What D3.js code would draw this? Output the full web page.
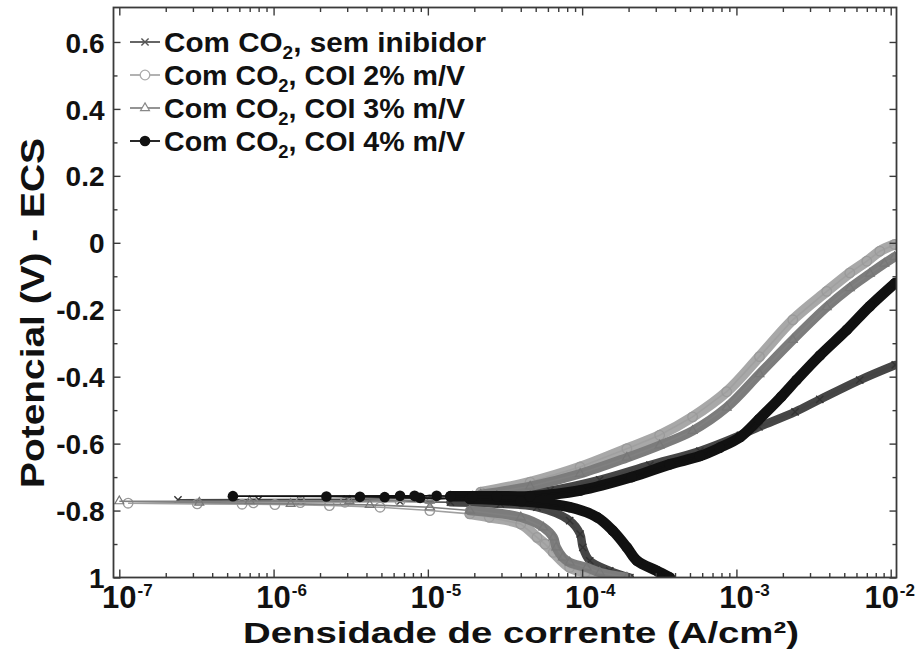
<!DOCTYPE html>
<html>
<head>
<meta charset="utf-8">
<script src="https://cdn.jsdelivr.net/npm/d3@7/dist/d3.min.js"></script>
<style>
  html, body { margin: 0; padding: 0; background: #ffffff; }
  svg { display: block; }
  text { font-family: "Liberation Sans", Arial, Helvetica, sans-serif; font-weight: bold; fill: #111; }
</style>
</head>
<body>
<svg id="chart" width="916" height="652"></svg>
<script>
// Polarisation curves (potential vs. current density), CO2-saturated medium.
// Each series is listed in scan order: cathodic end -> corrosion potential -> anodic end.

// --- Com CO2, sem inibidor ---
const semCurrent = [2.04e-4, 1.51e-4, 1.12e-4, 1.01e-4, 9.7e-5, 8.3e-5, 5.1e-5, 2.95e-5, 1.4e-5, 6.6e-6, 1.5e-6, 2.4e-7,
                    8e-7, 3e-6, 9e-6, 1.6e-5, 2.95e-5, 6.2e-5, 1.3e-4, 2.75e-4, 5.8e-4, 1.06e-3, 1.4e-3, 2.4e-3, 3.47e-3, 6.3e-3, 1.07e-2];
const semPotential = [-1.00, -0.98, -0.95, -0.91, -0.87, -0.83, -0.79, -0.78, -0.775, -0.773, -0.772, -0.768,
                      -0.767, -0.766, -0.764, -0.76, -0.755, -0.74, -0.708, -0.664, -0.622, -0.575, -0.55, -0.505, -0.468, -0.41, -0.365];

// --- Com CO2, COI 2% m/V ---
const coi2Current = [1.4e-4, 1.05e-4, 8.3e-5, 6.5e-5, 5.75e-5, 5.1e-5, 4.0e-5, 2.5e-5, 1.87e-5, 1.03e-5, 4.9e-6, 2.3e-6, 1.02e-6, 6.25e-7, 3.2e-7, 1.14e-7,
                     7.4e-7, 1.49e-6, 2.9e-6, 6.6e-6, 1.03e-5, 2.2e-5, 4.6e-5, 9.7e-5, 1.95e-4, 3.18e-4, 5.2e-4, 8.65e-4, 1.41e-3, 2.32e-3, 3.85e-3, 5.43e-3, 7.0e-3, 8.5e-3, 1.06e-2];
const coi2Potential = [-1.00, -0.985, -0.97, -0.925, -0.90, -0.88, -0.84, -0.82, -0.81, -0.80, -0.79, -0.785, -0.782, -0.781, -0.78, -0.778,
                       -0.777, -0.776, -0.775, -0.772, -0.767, -0.745, -0.715, -0.67, -0.615, -0.575, -0.52, -0.445, -0.34, -0.23, -0.145, -0.09, -0.055, -0.025, -0.005];

// --- Com CO2, COI 3% m/V ---
const coi3Current = [1.95e-4, 1.3e-4, 1.07e-4, 8.3e-5, 7.5e-5, 6.8e-5, 6.5e-5, 5.6e-5, 4.0e-5, 1.87e-5, 1.03e-5, 4.2e-6, 1.29e-6, 3.3e-7, 1.0e-7,
                     7e-7, 3.1e-6, 1.03e-5, 2.2e-5, 4.6e-5, 9.7e-5, 1.95e-4, 3.18e-4, 5.2e-4, 8.65e-4, 1.41e-3, 2.32e-3, 3.85e-3, 5.43e-3, 7.33e-3, 9.1e-3, 1.06e-2];
const coi3Potential = [-1.00, -0.985, -0.97, -0.955, -0.94, -0.91, -0.88, -0.85, -0.82, -0.80, -0.79, -0.783, -0.78, -0.776, -0.772,
                       -0.772, -0.771, -0.77, -0.752, -0.728, -0.69, -0.642, -0.605, -0.562, -0.492, -0.392, -0.29, -0.192, -0.135, -0.092, -0.062, -0.042];

// --- Com CO2, COI 4% m/V ---
const coi4Current = [3.7e-4, 3.05e-4, 2.27e-4, 1.95e-4, 1.58e-4, 1.25e-4, 8.3e-5, 4.0e-5, 1.87e-5, 8.9e-6, 5.25e-6, 3.63e-6, 2.2e-6, 5.45e-7,
                     6.6e-6, 8.2e-6, 1.14e-5, 1.4e-5, 1.95e-5, 2.8e-5, 4.6e-5, 9.7e-5, 2.1e-4, 3.7e-4, 5.8e-4, 7.8e-4, 1.06e-3, 1.4e-3, 1.95e-3, 2.45e-3, 3.47e-3, 5.2e-3, 7.3e-3, 1.07e-2];
const coi4Potential = [-1.00, -0.98, -0.95, -0.91, -0.86, -0.82, -0.79, -0.772, -0.765, -0.762, -0.76, -0.759, -0.758, -0.757,
                       -0.756, -0.756, -0.756, -0.757, -0.757, -0.757, -0.757, -0.74, -0.70, -0.662, -0.637, -0.612, -0.58, -0.527, -0.46, -0.41, -0.337, -0.26, -0.19, -0.12];

// Legend labels (split around the subscript)
const legendSuffixes = [", sem inibidor", ", COI 2% m/V", ", COI 3% m/V", ", COI 4% m/V"];

// Axis ticks and labels
const xDecades = [1e-7, 1e-6, 1e-5, 1e-4, 1e-3, 1e-2];
const xExponents = ["-7", "-6", "-5", "-4", "-3", "-2"];
const yTickValues = [0.6, 0.4, 0.2, 0, -0.2, -0.4, -0.6, -0.8, -1.0];
const yTickLabels = ["0.6", "0.4", "0.2", "0", "-0.2", "-0.4", "-0.6", "-0.8", "1"];
const yMinorValues = [0.5, 0.3, 0.1, -0.1, -0.3, -0.5, -0.7, -0.9];

const xTitle = "Densidade de corrente (A/cm²)";
const yTitle = "Potencial (V) - ECS";

// ---------------------------------------------------------------
const svg = d3.select("#chart");
const W = 916;
const L = 113.5, R = 896.5, T = 7.5, B = 577.5;

const x = d3.scaleLog().domain([Math.pow(10, -7.0376), Math.pow(10, -1.9624)]).range([L, R]);
const y = d3.scaleLinear().domain([-1, 0.703]).range([B, T]);

const zip = (cs, ps) => cs.map((c, i) => ({ i: c, e: ps[i] }));

const series = [
  { data: zip(semCurrent, semPotential),   band: "#464646", thin: "#444",    marker: "cross",    mColor: "#333",    bandW: 8.5, legendLine: "#555" },
  { data: zip(coi2Current, coi2Potential), band: "#a8a8a8", thin: "#a0a0a0", marker: "circle",   mColor: "#9a9a9a", bandW: 10.5, legendLine: "#aaa" },
  { data: zip(coi3Current, coi3Potential), band: "#7c7c7c", thin: "#808080", marker: "triangle", mColor: "#777",    bandW: 9.5, legendLine: "#888" },
  { data: zip(coi4Current, coi4Potential), band: "#111111", thin: "#111",    marker: "dot",      mColor: "#111",    bandW: 10.5, legendLine: "#111" }
];

const plot = svg.append("g");
plot.append("clipPath").attr("id", "clip")
  .append("rect").attr("x", L).attr("y", T).attr("width", R - L).attr("height", B - T);
const curves = plot.append("g").attr("clip-path", "url(#clip)");

// Thick band where the measured points are densely packed
const bandLine = d3.line()
  .defined(d => d.i >= 1.2e-5)
  .x(d => x(d.i)).y(d => y(d.e))
  .curve(d3.curveCatmullRom.alpha(0.5));
const thinLine = d3.line()
  .x(d => x(d.i)).y(d => y(d.e))
  .curve(d3.curveLinear);

function drawMarker(g, type, color, cx, cy, legend) {
  if (type === "cross") {
    const s = 3.6;
    g.append("path")
      .attr("d", `M${cx - s},${cy - s}L${cx + s},${cy + s}M${cx - s},${cy + s}L${cx + s},${cy - s}`)
      .attr("stroke", color).attr("stroke-width", 1.4).attr("fill", "none");
  } else if (type === "circle") {
    g.append("circle").attr("cx", cx).attr("cy", cy).attr("r", 4.8)
      .attr("stroke", color).attr("stroke-width", 1.3).attr("fill", legend ? "#fff" : "none");
  } else if (type === "triangle") {
    g.append("path")
      .attr("d", d3.symbol().type(d3.symbolTriangle).size(34)())
      .attr("transform", `translate(${cx},${cy})`)
      .attr("stroke", color).attr("stroke-width", 1.2).attr("fill", legend ? "#fff" : "none");
  } else {
    g.append("circle").attr("cx", cx).attr("cy", cy).attr("r", 5.3).attr("fill", color);
  }
}

series.forEach(s => {
  const g = curves.append("g");
  g.append("path").datum(s.data).attr("d", bandLine)
    .attr("fill", "none").attr("stroke", s.band).attr("stroke-width", s.bandW)
    .attr("stroke-linecap", "round").attr("stroke-linejoin", "round");
  g.append("path").datum(s.data).attr("d", thinLine)
    .attr("fill", "none").attr("stroke", s.thin).attr("stroke-width", 1.6);
  s.data.forEach(d => drawMarker(g, s.marker, s.mColor, x(d.i), y(d.e), false));
});

// ---------------- Axes (ticks pointing inward) ----------------
const axisColor = "#3a3a3a";
const xMinor = [];
for (let d = -7; d <= -3; d++) for (let k = 2; k <= 9; k++) xMinor.push(k * Math.pow(10, d));

function styleAxis(g) {
  g.select(".domain").remove();
  g.selectAll(".tick line").attr("stroke", axisColor).attr("stroke-width", 1.4);
}

svg.append("g").attr("transform", `translate(0,${B})`)
  .call(d3.axisBottom(x).tickValues(xDecades).tickSize(-8).tickFormat("")).call(styleAxis);
svg.append("g").attr("transform", `translate(0,${B})`)
  .call(d3.axisBottom(x).tickValues(xMinor).tickSize(-4.5).tickFormat("")).call(styleAxis);
svg.append("g").attr("transform", `translate(0,${T})`)
  .call(d3.axisTop(x).tickValues(xDecades).tickSize(-8).tickFormat("")).call(styleAxis);
svg.append("g").attr("transform", `translate(0,${T})`)
  .call(d3.axisTop(x).tickValues(xMinor).tickSize(-4.5).tickFormat("")).call(styleAxis);

const yLeft = svg.append("g").attr("transform", `translate(${L},0)`)
  .call(d3.axisLeft(y).tickValues(yTickValues).tickSize(-7).tickPadding(9)
    .tickFormat((d, i) => yTickLabels[i]))
  .call(styleAxis);
yLeft.selectAll(".tick text")
  .attr("font-size", 28).attr("font-weight", "bold").attr("fill", "#111")
  .attr("font-family", "'Liberation Sans', Arial, Helvetica, sans-serif")
  .attr("dy", "0.36em");
svg.append("g").attr("transform", `translate(${L},0)`)
  .call(d3.axisLeft(y).tickValues(yMinorValues).tickSize(-4).tickFormat("")).call(styleAxis);
svg.append("g").attr("transform", `translate(${R},0)`)
  .call(d3.axisRight(y).tickValues(yTickValues).tickSize(-7).tickFormat("")).call(styleAxis);
svg.append("g").attr("transform", `translate(${R},0)`)
  .call(d3.axisRight(y).tickValues(yMinorValues).tickSize(-4).tickFormat("")).call(styleAxis);

// Frame
svg.append("rect").attr("x", L).attr("y", T).attr("width", R - L).attr("height", B - T)
  .attr("fill", "none").attr("stroke", axisColor).attr("stroke-width", 1.8);

// Log tick labels: "10" centred on the tick, exponent raised to its right
const xl = svg.append("g");
xDecades.forEach((v, i) => {
  const grp = xl.append("g");
  const px = x(v);
  const base = grp.append("text").attr("x", px).attr("y", 608).attr("text-anchor", "middle")
    .attr("font-size", 31).text("10");
  const bw = base.node().getComputedTextLength();
  const exp = grp.append("text").attr("x", px + bw / 2 + 1).attr("y", 596).attr("text-anchor", "start")
    .attr("font-size", 17).text(xExponents[i]);
  const right = px + bw / 2 + 1 + exp.node().getComputedTextLength();
  if (right > W - 1) grp.attr("transform", `translate(${W - 1 - right},0)`);
});

// Axis titles
svg.append("text").attr("x", 521).attr("y", 643).attr("text-anchor", "middle")
  .attr("font-size", 30).attr("textLength", 556).attr("lengthAdjust", "spacingAndGlyphs")
  .text(xTitle);
svg.append("text").attr("transform", "translate(44,313) rotate(-90)")
  .attr("text-anchor", "middle").attr("font-size", 33)
  .attr("textLength", 350).attr("lengthAdjust", "spacingAndGlyphs")
  .text(yTitle);

// ---------------- Legend ----------------
const legend = svg.append("g");
const rowY = [42, 75, 108, 141];
const rowWidth = [322, 301, 301, 301];
series.forEach((s, i) => {
  const cy = rowY[i];
  legend.append("line").attr("x1", 130).attr("x2", 160).attr("y1", cy).attr("y2", cy)
    .attr("stroke", s.legendLine).attr("stroke-width", 1.8);
  drawMarker(legend, s.marker, s.marker === "dot" ? "#111" : s.legendLine, 145, cy, true);
  const t = legend.append("text").attr("x", 164).attr("y", cy + 10).attr("font-size", 28)
    .attr("textLength", rowWidth[i]).attr("lengthAdjust", "spacingAndGlyphs");
  t.append("tspan").text("Com CO");
  t.append("tspan").attr("font-size", 18).attr("dy", 7).text("2");
  t.append("tspan").attr("dy", -7).text(legendSuffixes[i]);
});
</script>
</body>
</html>
